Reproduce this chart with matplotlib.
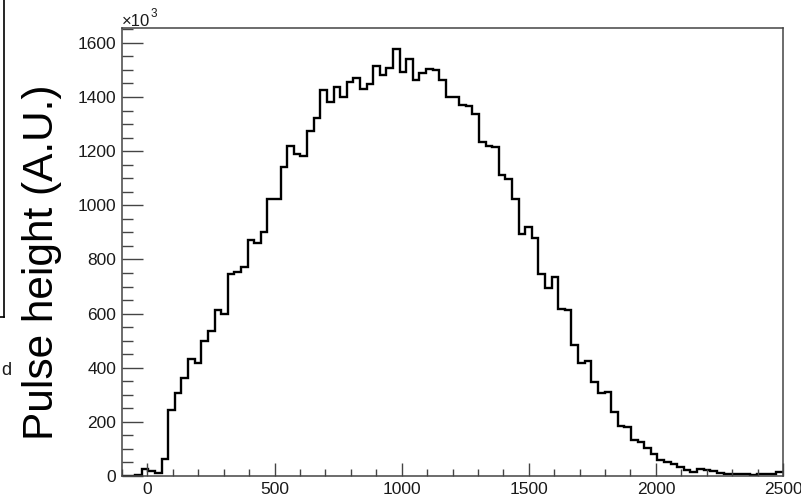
import numpy as np
import matplotlib
matplotlib.use("Agg")
import matplotlib.pyplot as plt
from matplotlib.ticker import MultipleLocator

plt.rcParams['font.family'] = ['Liberation Sans', 'DejaVu Sans']

# Histogram: 100 bins from -100 to 2500, bin contents in units of 10^3
bin_low, bin_high, n_bins = -100, 2500, 100
counts_k = [
    0, 1, 3, 27, 18, 11, 64, 243, 307, 362,
    431, 419, 499, 537, 612, 600, 748, 752, 772, 871,
    861, 901, 1025, 1025, 1142, 1220, 1189, 1182, 1274, 1323,
    1425, 1380, 1437, 1400, 1456, 1471, 1428, 1447, 1513, 1481,
    1507, 1577, 1492, 1540, 1463, 1490, 1503, 1498, 1462, 1401,
    1401, 1372, 1368, 1337, 1234, 1220, 1214, 1111, 1097, 1022,
    893, 920, 881, 746, 696, 736, 618, 612, 483, 416,
    426, 347, 305, 311, 235, 186, 181, 132, 124, 102,
    83, 60, 53, 46, 32, 24, 15, 27, 23, 18,
    12, 8, 6, 9, 8, 4, 6, 6, 9, 15,
]
x_ticks = [0, 500, 1000, 1500, 2000, 2500]
y_ticks = [0, 200, 400, 600, 800, 1000, 1200, 1400, 1600]
y_label = "Pulse height (A.U.)"

W, H, DPI = 801, 498, 100
fig = plt.figure(figsize=(W / DPI, H / DPI), dpi=DPI)

# axes box in pixel coordinates
x0, x1, y_top, y_bot = 122, 783, 28, 476
ax = fig.add_axes([x0 / W, 1 - y_bot / H, (x1 - x0) / W, (y_bot - y_top) / H])

edges = np.linspace(bin_low, bin_high, n_bins + 1)
ax.stairs(counts_k, edges, color='black', linewidth=1.7, baseline=None)

ax.set_xlim(bin_low, bin_high)
ax.set_ylim(0, 1655)
ax.set_xticks(x_ticks)
ax.set_yticks(y_ticks)
ax.xaxis.set_minor_locator(MultipleLocator(100))
ax.yaxis.set_minor_locator(MultipleLocator(50))

frame_col = '#444444'
for s in ax.spines.values():
    s.set_color(frame_col)
    s.set_linewidth(1.1)

ax.tick_params(axis='both', which='both', direction='in', color=frame_col,
               width=1.0, labelsize=12.5, labelcolor='#1a1a1a',
               top=False, right=False)
ax.tick_params(axis='y', which='major', length=15, pad=4)
ax.tick_params(axis='y', which='minor', length=8)
ax.tick_params(axis='x', which='major', length=9.5, pad=4)
ax.tick_params(axis='x', which='minor', length=5)

# exponent marker above the y axis
fig.text(x0 / W, 1 - 25.5 / H, "\u00d710", fontsize=12, color='#1a1a1a',
         ha='left', va='baseline')
fig.text(151 / W, 1 - 17 / H, "3", fontsize=8.5, color='#1a1a1a',
         ha='left', va='baseline')

# y axis title
fig.text(53.5 / W, 1 - 262 / H, y_label, fontsize=30.5, color='black',
         rotation=90, rotation_mode='anchor', ha='center', va='baseline')

# neighbouring panel edge on the far left
fig.add_artist(plt.Line2D([4 / W, 4 / W], [1.0, 1 - 317 / H],
                          transform=fig.transFigure, color='black', linewidth=1.2))
fig.add_artist(plt.Line2D([0, 4 / W], [1 - 317 / H, 1 - 317 / H],
                          transform=fig.transFigure, color='black', linewidth=1.2))
fig.text(1 / W, 1 - 375 / H, "d", fontsize=13, color='#1a1a1a',
         ha='left', va='baseline')

fig.savefig("out.png", dpi=DPI)
